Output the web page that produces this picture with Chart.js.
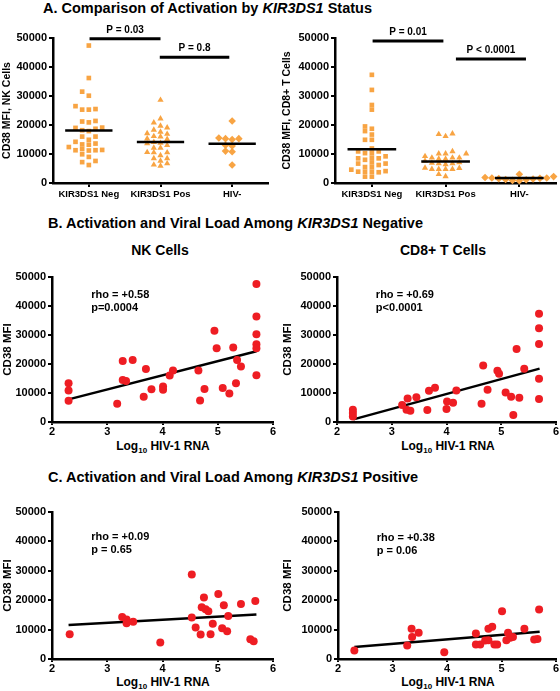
<!DOCTYPE html>
<html>
<head>
<meta charset="utf-8">
<script src="https://cdn.jsdelivr.net/npm/chart.js@4.4.1/dist/chart.umd.min.js"></script>
<style>
  body { margin: 0; background: #fff; font-family: "Liberation Sans", Arial, sans-serif; }
  #page { position: relative; width: 560px; height: 691px; overflow: hidden; }
  canvas { position: absolute; }
  .t { position: absolute; font-weight: bold; white-space: nowrap; color: #000; }
  .c { transform: translateX(-50%); }
</style>
</head>
<body>
<div id="page">
  <div class="t" style="left:43px;top:0px;font-size:14.5px">A. Comparison of Activation by <i>KIR3DS1</i> Status</div>
  <div class="t" style="left:48px;top:215px;font-size:14.5px">B. Activation and Viral Load Among <i>KIR3DS1</i> Negative</div>
  <div class="t" style="left:48px;top:469px;font-size:14.5px">C. Activation and Viral Load Among <i>KIR3DS1</i> Positive</div>
  <div class="t c" style="left:160px;top:242px;font-size:14px">NK Cells</div>
  <div class="t c" style="left:443px;top:242px;font-size:14px">CD8+ T Cells</div>
  <div class="t c" style="left:163px;top:439px;font-size:12px">Log<sub style="font-size:8px">10</sub> HIV-1 RNA</div>
  <div class="t c" style="left:448px;top:439px;font-size:12px">Log<sub style="font-size:8px">10</sub> HIV-1 RNA</div>
  <div class="t c" style="left:163px;top:675px;font-size:12px">Log<sub style="font-size:8px">10</sub> HIV-1 RNA</div>
  <div class="t c" style="left:448px;top:675px;font-size:12px">Log<sub style="font-size:8px">10</sub> HIV-1 RNA</div>

  <canvas id="aNk" width="280" height="185" style="left:0;top:20px"></canvas>
  <canvas id="aCd8" width="280" height="185" style="left:280px;top:20px"></canvas>
  <canvas id="bNk" width="280" height="175" style="left:0;top:265px"></canvas>
  <canvas id="bCd8" width="280" height="175" style="left:280px;top:265px"></canvas>
  <canvas id="cNk" width="280" height="176" style="left:0;top:500px"></canvas>
  <canvas id="cCd8" width="280" height="176" style="left:280px;top:500px"></canvas>
</div>

<script>
// ---- data: panel A (CD38 MFI by group) ----
const groups = ['KIR3DS1 Neg', 'KIR3DS1 Pos', 'HIV-'];
const nkNeg = [47400, 36200, 31500, 30100, 26500, 25300, 25300, 25500, 21400, 20900, 21200, 19100,
  18700, 18200, 19000, 17900, 16000, 16000, 14900, 14200, 13600, 13300, 13200, 12400, 11700,
  11300, 11300, 11400, 11200, 9900, 9000, 7600, 7200, 6200];
const nkPos = [28600, 22200, 20800, 19700, 18300, 19100, 17600, 17100, 16900, 16100, 15300, 16000,
  15100, 14100, 13600, 13800, 13000, 12100, 12100, 10600, 10500, 10500, 9500, 8500, 8500, 7600,
  6700, 6300, 5900];
const nkHiv = [21400, 15300, 15500, 15000, 15300, 13000, 12800, 11000, 10800, 6200];
const cd8Neg = [37300, 32100, 26900, 25300, 19500, 18700, 17900, 16700, 14900, 14900, 11900, 10900,
  10900, 10300, 10300, 9200, 8500, 8500, 8700, 8000, 7100, 6700, 6700, 5500, 6200, 5500, 4600,
  3900, 3700, 3900, 3900, 4100, 2200, 2200];
const cd8Pos = [16800, 17000, 16100, 10900, 10100, 10100, 10100, 9200, 8700, 8300, 8300, 8700, 8700,
  7600, 7100, 6900, 6400, 6700, 6700, 4800, 4800, 4800, 5200, 4800, 5100, 3000, 2300];
const cd8Hiv = [3000, 2200, 1900, 1700, 1700, 1600, 1500, 1400, 1200, 1100, 900, 800];
const nkMedians = [18100, 14100, 13500];
const cd8Medians = [11600, 7400, 1700];
const nkPLabels = ['P = 0.03', 'P = 0.8'];
const cd8PLabels = ['P = 0.01', 'P < 0.0001'];

// ---- data: panels B and C (log10 viral load vs CD38 MFI) ----
const negNkLog = [2.30, 2.30, 2.30, 3.18, 3.28, 3.28, 3.34, 3.46, 3.66, 3.70, 3.80, 4.01, 4.01, 4.13,
  4.19, 4.65, 4.68, 4.76, 4.94, 4.98, 5.09, 5.21, 5.28, 5.33, 5.35, 5.42, 5.70, 5.70, 5.70, 5.70, 5.70, 5.70];
const negNkMfi = [13400, 10900, 7300, 6300, 21000, 14500, 14100, 21400, 8700, 18300, 11300, 12200, 11100,
  16000, 17800, 17800, 7400, 11400, 31500, 25400, 11700, 9800, 25700, 13400, 21400, 19100, 47600,
  36400, 30300, 26800, 25400, 16100];
const negCd8Log = [2.29, 2.29, 2.29, 3.19, 3.29, 3.27, 3.34, 3.45, 3.65, 3.68, 3.79, 4.00, 4.01, 4.12,
  4.18, 4.64, 4.67, 4.75, 4.93, 4.96, 5.08, 5.18, 5.22, 5.28, 5.33, 5.42, 5.69, 5.69, 5.69, 5.69, 5.69];
const negCd8Mfi = [4200, 3100, 1900, 5900, 8100, 4200, 3900, 8500, 4100, 10800, 11800, 4500, 7100, 6600,
  10900, 6300, 19500, 11100, 17700, 16600, 10200, 8700, 2400, 25200, 8400, 18400, 37300, 32300,
  26900, 14900, 7900];
const posNkLog = [2.32, 3.27, 3.35, 3.35, 3.47, 3.96, 4.53, 4.53, 4.60, 4.69, 4.71, 4.75, 4.78, 4.83,
  4.87, 4.91, 5.01, 5.08, 5.11, 5.17, 5.19, 5.42, 5.59, 5.65, 5.68];
const posNkMfi = [8400, 14300, 13400, 12200, 12700, 5600, 28700, 14100, 10700, 8300, 17600, 20900, 16900,
  16200, 8400, 12000, 22100, 10500, 18300, 9400, 14600, 18700, 6700, 6000, 19700];
const posCd8Log = [2.30, 3.27, 3.35, 3.36, 3.48, 3.95, 4.53, 4.53, 4.61, 4.70, 4.76, 4.76, 4.83, 4.87,
  4.92, 5.01, 5.09, 5.12, 5.16, 5.21, 5.42, 5.60, 5.66, 5.69];
const posCd8Mfi = [2900, 4600, 10300, 7500, 8900, 2300, 8700, 4900, 4900, 6300, 10300, 6400, 11000, 4900,
  4900, 16200, 6400, 8900, 7200, 7500, 10300, 6600, 6800, 16800];
const fitLog = [2.3, 5.7];
const negNkFit = [7800, 24400];
const negCd8Fit = [900, 18400];
const posNkFit = [11600, 15100];
const posCd8Fit = [4100, 9300];

const FONT = '"Liberation Sans", Arial, sans-serif';
const ORANGE = '#F8A443';
const RED = '#EE1D23';

// spread points of one group sideways so that they do not overlap (column swarm)
function swarm(values, cat) {
  const colStep = 0.093, tol = 1600;
  const placed = [];
  return [...values].sort((a, b) => a - b).map(v => {
    for (let k = 0; ; k++) {
      const col = k === 0 ? 0 : (k % 2 ? -(k + 1) / 2 : k / 2);
      if (!placed.some(p => p.col === col && Math.abs(p.v - v) < tol)) {
        placed.push({ col, v });
        return { x: cat + col * colStep, y: v };
      }
    }
  });
}

function axisLook(tickLength) {
  return {
    grid: { drawOnChartArea: false, color: '#000', lineWidth: 2, tickLength: tickLength },
    border: { color: '#000', width: 2.5 }
  };
}

function yScale(title, titleSize, width) {
  return Object.assign(axisLook(4), {
    min: 0, max: 50000,
    ticks: { stepSize: 10000, color: '#000', padding: 2, callback: v => String(v),
      font: { family: FONT, size: 11, weight: 'bold' } },
    title: { display: true, text: title, color: '#000', padding: { top: 1, bottom: 0 },
      font: { family: FONT, size: titleSize, weight: 'bold' } },
    afterFit: s => { s.width = width; }
  });
}

function stripChart(id, series, medians, yTitle, yWidth, padRight, bars) {
  const shapes = ['rect', 'triangle', 'rectRot'];
  const radii = [3.3, 3.6, 3.8];
  const datasets = series.map((vals, i) => ({
    data: swarm(vals, i + 1),
    pointStyle: shapes[i], pointRadius: radii[i], pointHoverRadius: radii[i],
    backgroundColor: ORANGE, borderColor: ORANGE, borderWidth: 0, clip: false
  }));
  const overlay = {
    id: 'overlay',
    afterDatasetsDraw(chart) {
      const { ctx, scales: { x, y } } = chart;
      ctx.save();
      ctx.strokeStyle = '#000';
      ctx.fillStyle = '#000';
      ctx.lineWidth = 2.5;
      medians.forEach((m, i) => {
        const py = y.getPixelForValue(m);
        ctx.beginPath();
        ctx.moveTo(x.getPixelForValue(i + 1 - 0.33), py);
        ctx.lineTo(x.getPixelForValue(i + 1 + 0.33), py);
        ctx.stroke();
      });
      ctx.lineWidth = 3;
      ctx.font = 'bold 10px ' + FONT;
      ctx.textAlign = 'center';
      bars.forEach(b => {
        const py = y.getPixelForValue(b.level);
        const x0 = x.getPixelForValue(b.from), x1 = x.getPixelForValue(b.to);
        ctx.beginPath();
        ctx.moveTo(x0, py);
        ctx.lineTo(x1, py);
        ctx.stroke();
        ctx.fillText(b.label, (x0 + x1) / 2, py - 6);
      });
      ctx.restore();
    }
  };
  return new Chart(document.getElementById(id), {
    type: 'scatter',
    data: { datasets },
    options: {
      responsive: false, animation: false,
      layout: { padding: { top: 18, right: padRight, left: 0, bottom: 0 } },
      plugins: { legend: { display: false }, tooltip: { enabled: false } },
      scales: {
        x: Object.assign(axisLook(4), {
          type: 'linear', min: 0.5, max: 3.5,
          afterBuildTicks: s => { s.ticks = groups.map((g, i) => ({ value: i + 1 })); },
          ticks: { color: '#000', padding: 2, autoSkip: false, maxRotation: 0,
            font: { family: FONT, size: 9.5, weight: 'bold' }, callback: v => groups[v - 1] },
          afterFit: s => { s.height = 22; }
        }),
        y: yScale(yTitle, 10.5, yWidth)
      }
    },
    plugins: [overlay]
  });
}

function regChart(id, logs, mfis, fit, rhoText, textY, yWidth, padRight, xHeight) {
  const rhoLabel = {
    id: 'rhoLabel',
    afterDatasetsDraw(chart) {
      const { ctx, scales: { x, y } } = chart;
      ctx.save();
      ctx.fillStyle = '#000';
      ctx.font = 'bold 11px ' + FONT;
      ctx.textAlign = 'left';
      const px = x.getPixelForValue(2.71), py = y.getPixelForValue(textY);
      rhoText.forEach((t, i) => ctx.fillText(t, px, py + i * 13));
      ctx.restore();
    }
  };
  return new Chart(document.getElementById(id), {
    type: 'scatter',
    data: {
      datasets: [
        {
          data: logs.map((v, i) => ({ x: v, y: mfis[i] })),
          pointRadius: 4, pointHoverRadius: 4, backgroundColor: RED, borderColor: RED, borderWidth: 0, clip: false
        },
        {
          type: 'line',
          data: fitLog.map((v, i) => ({ x: v, y: fit[i] })),
          borderColor: '#000', borderWidth: 2.5, pointRadius: 0, fill: false
        }
      ]
    },
    options: {
      responsive: false, animation: false,
      layout: { padding: { top: 12, right: padRight, left: 0, bottom: 0 } },
      plugins: { legend: { display: false }, tooltip: { enabled: false } },
      scales: {
        x: Object.assign(axisLook(3), {
          type: 'linear', min: 2, max: 6,
          ticks: { stepSize: 1, color: '#000', padding: 0, font: { family: FONT, size: 11, weight: 'bold' } },
          afterFit: s => { s.height = xHeight; }
        }),
        y: yScale('CD38 MFI', 11.5, yWidth)
      }
    },
    plugins: [rhoLabel]
  });
}

stripChart('aNk', [nkNeg, nkPos, nkHiv], nkMedians, 'CD38 MFI, NK Cells', 53, 12, [
  { from: 1.01, to: 2.0, level: 49700, label: nkPLabels[0] },
  { from: 1.99, to: 2.96, level: 43400, label: nkPLabels[1] }
]);
stripChart('aCd8', [cd8Neg, cd8Pos, cd8Hiv], cd8Medians, 'CD38 MFI, CD8+ T Cells', 55, 3, [
  { from: 1.01, to: 1.97, level: 49000, label: cd8PLabels[0] },
  { from: 2.14, to: 3.09, level: 42800, label: cd8PLabels[1] }
]);
regChart('bNk', negNkLog, negNkMfi, negNkFit, ['rho = +0.58', 'p=0.0004'], 42800, 52, 7, 18);
regChart('bCd8', negCd8Log, negCd8Mfi, negCd8Fit, ['rho = +0.69', 'p<0.0001'], 42800, 57, 3, 18);
regChart('cNk', posNkLog, posNkMfi, posNkFit, ['rho = +0.09', 'p = 0.65'], 40600, 52, 7, 17);
regChart('cCd8', posCd8Log, posCd8Mfi, posCd8Fit, ['rho = +0.38', 'p = 0.06'], 40200, 58, 3, 17);
</script>
</body>
</html>
